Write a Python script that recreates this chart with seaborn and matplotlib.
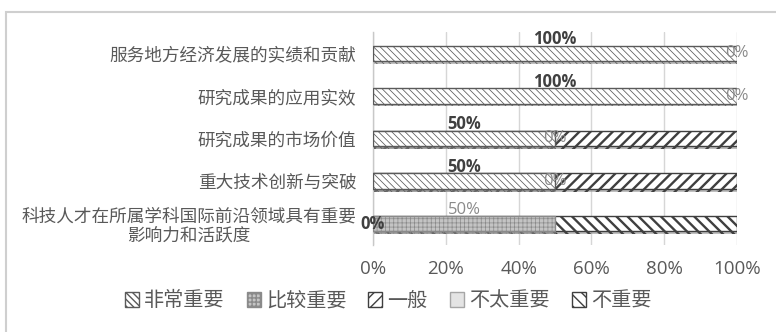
import matplotlib
matplotlib.use("Agg")
import matplotlib.pyplot as plt
import matplotlib.patheffects as pe
from matplotlib.patches import Patch, Rectangle
import numpy as np
import pandas as pd
import seaborn as sns

# ---- data -------------------------------------------------------------
categories = [
    "服务地方经济发展的实绩和贡献",
    "研究成果的应用实效",
    "研究成果的市场价值",
    "重大技术创新与突破",
    "科技人才在所属学科国际前沿领域具有重要\n影响力和活跃度",
]
series_names = ["非常重要", "比较重要", "一般", "不太重要", "不重要"]
very_important = [1.0, 1.0, 0.5, 0.5, 0.0]
fairly_important = [0.0, 0.0, 0.0, 0.0, 0.5]
neutral = [0.0, 0.0, 0.5, 0.5, 0.0]
less_important = [0.0, 0.0, 0.0, 0.0, 0.0]
not_important = [0.0, 0.0, 0.0, 0.0, 0.5]
xticks = [0.0, 0.2, 0.4, 0.6, 0.8, 1.0]
xtick_labels = ["0%", "20%", "40%", "60%", "80%", "100%"]

series = [very_important, fairly_important, neutral, less_important, not_important]

# ---- styles -----------------------------------------------------------
styles = [
    dict(face="white", edge="#5a5a5a", hatch="\\\\\\\\\\", hlw=0.55),
    dict(face="#c4c4c4", edge="#8a8a8a", hatch="++++", hlw=0.5),
    dict(face="white", edge="#3f3f3f", hatch="///", hlw=1.7),
    dict(face="#e4e4e4", edge="#a6a6a6", hatch="", hlw=0.5),
    dict(face="white", edge="#3f3f3f", hatch="\\\\\\", hlw=1.7),
]
text_gray = "#595959"

sns.set_theme(style="white")
plt.rcParams["font.family"] = ["Noto Sans CJK SC", "DejaVu Sans"]

fig = plt.figure(figsize=(7.76, 3.32), dpi=100)
ax = fig.add_axes([373 / 776, 1 - 245 / 332, 364 / 776, 213 / 332])

cum = np.cumsum(np.array(series), axis=0)
bar_width = 0.36

# draw cumulative totals back to front so each segment shows its own span
for k in range(len(series) - 1, -1, -1):
    df = pd.DataFrame({"category": categories, "total": cum[k]})
    before = len(ax.patches)
    sns.barplot(data=df, x="total", y="category", orient="h", width=bar_width,
                color=styles[k]["face"], edgecolor=styles[k]["edge"],
                linewidth=1.0, saturation=1, ax=ax, zorder=3)
    new = ax.patches[before:]
    for patch, v in zip(new, series[k]):
        patch.set_facecolor(styles[k]["face"])
        patch.set_edgecolor(styles[k]["edge"])
        patch.set_hatch(styles[k]["hatch"])
        if hasattr(patch, "set_hatch_linewidth"):
            patch.set_hatch_linewidth(styles[k]["hlw"])
        patch.set_path_effects([
            pe.SimplePatchShadow(offset=(0.8, -2.0), shadow_rgbFace="#8c8c8c", alpha=0.55),
            pe.Normal(),
        ])
        if v == 0:
            patch.set_visible(False)

# data labels for the first two series
label_font = ["Open Sans", "DejaVu Sans"]
for k, (weight, color) in enumerate([("bold", "#404040"), ("normal", "#8a8a8a")]):
    left = cum[k] - np.array(series[k])
    for i, v in enumerate(series[k]):
        if v == 0:
            x, y = left[i], i
        else:
            x, y = left[i] + v / 2, i - 0.33
        ax.text(x, y, f"{v:.0%}", ha="center", va="center", fontsize=12,
                fontweight=weight, color=color, family=label_font, zorder=5)

ax.set_xlim(0, 1)
ax.set_ylim(len(categories) - 0.5, -0.5)
ax.set_xticks(xticks)
ax.set_xticklabels(xtick_labels, family=label_font)
ax.set_xlabel("")
ax.set_ylabel("")
ax.xaxis.grid(True, color="#d6d6d6", linewidth=1.0, zorder=0)
ax.set_axisbelow(True)
for side in ["top", "right", "bottom"]:
    ax.spines[side].set_visible(False)
ax.spines["left"].set_color("#c8c8c8")
ax.spines["left"].set_linewidth(1.0)
ax.tick_params(axis="x", length=0, pad=11, labelsize=13.5, labelcolor=text_gray)
ax.tick_params(axis="y", length=0, pad=12, labelsize=12.7, labelcolor=text_gray)
for lbl in ax.get_yticklabels():
    lbl.set_multialignment("center")
    lbl.set_linespacing(1.05)

# legend
handles = []
for s in styles:
    h = Patch(facecolor=s["face"], edgecolor=s["edge"], hatch=s["hatch"], linewidth=1.0)
    if hasattr(h, "set_hatch_linewidth"):
        h.set_hatch_linewidth(min(s["hlw"], 1.2))
    handles.append(h)
leg = fig.legend(handles, series_names, loc="center", bbox_to_anchor=(0.5, 1 - 301 / 332),
                 ncol=5, frameon=False, fontsize=14.5, handlelength=0.7, handleheight=0.7,
                 handletextpad=0.25, columnspacing=1.1, labelcolor=text_gray)

# chart frame
fig.add_artist(Rectangle((5.5 / 776, -0.1), 1.0, 1 - 12 / 332 + 0.1,
                         transform=fig.transFigure, fill=False,
                         edgecolor="#cfcfcf", linewidth=1.5))

fig.savefig("out.png", dpi=100)
